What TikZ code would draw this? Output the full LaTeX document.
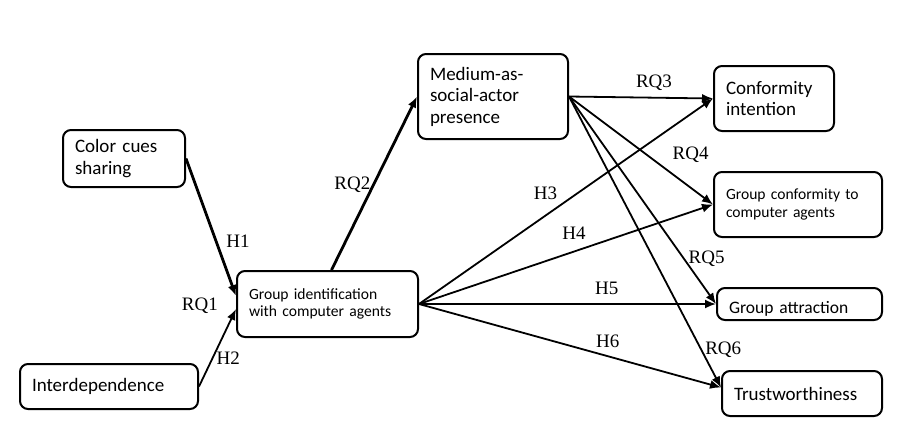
\documentclass[tikz,border=0pt]{standalone}
\usepackage{fontspec}
\setmainfont{Liberation Serif}
\newfontfamily\boxfont{Carlito}
\usetikzlibrary{positioning,arrows.meta}
\tikzset{
  box/.style={draw, line width=2pt, rounded corners=8pt, anchor=north west, align=left, inner xsep=12pt, inner ysep=2pt, font=\boxfont\fontsize{19}{21.5}\selectfont},
  smallbox/.style={box, font=\boxfont\fontsize{15.6}{17.5}\selectfont},
  lbl/.style={inner sep=1pt, font=\fontsize{19}{21}\selectfont},
  arr/.style={-{Latex[length=11pt,width=9pt]}, line width=1.8pt},
  thickarr/.style={-{Latex[length=11pt,width=9pt]}, line width=2.8pt}
}
\begin{document}
\begin{tikzpicture}[x=1pt,y=-1pt]
\useasboundingbox (0,0) rectangle (918,432);
%
\node[box, text width=98pt, minimum height=57pt] (cc) at (62,129) {Color cues\\sharing};
\node[box, text width=154pt, minimum height=45pt] (idp) at (19,363) {Interdependence};
\node[smallbox, text width=157pt, minimum height=66pt] (grp) at (236,270) {Group identification\\with computer agents};
\node[box, text width=126pt, minimum height=85pt] (med) at (417,53) {Medium-as-\\social-actor\\presence};
%
\node[box, text width=96pt, minimum height=65pt] (ci) at (713,65) {Conformity\\intention};
\node[smallbox, text width=144pt, minimum height=65pt] (gc) at (713,171) {Group conformity to\\computer agents};
\node[box, text width=141pt, minimum height=32pt, text height=21pt, text depth=2pt, font=\boxfont\fontsize{17.5}{20}\selectfont] (ga) at (716,287) {Group attraction};
\node[box, text width=136pt, minimum height=45pt] (tw) at (721,370) {Trustworthiness};
%
\draw[thickarr] (cc.east) -- node[lbl, pos=0.6, xshift=22pt] {H1} ([yshift=8pt]grp.west);
\draw[arr] (idp.east) -- node[lbl, pos=0.36, xshift=16pt] {H2} ([yshift=-5pt]grp.west);
\node[lbl, left=17pt of grp.west, yshift=-2pt] (rq1) {RQ1};
\draw[thickarr] ([xshift=4pt]grp.north) -- node[lbl, pos=0.49, xshift=-21pt] {RQ2} (med.west);
%
\draw[arr] (med.east) -- node[lbl, pos=0.59, yshift=15pt] {RQ3} (ci.west);
\draw[arr] (med.east) -- node[lbl, pos=0.65, xshift=28pt, yshift=12pt] {RQ4} (gc.west);
\draw[arr] (med.east) -- node[lbl, pos=0.78, xshift=23pt] {RQ5} (ga.west);
\draw[arr] (med.east) -- node[lbl, pos=0.87, xshift=22pt] {RQ6} ([yshift=6pt]tw.west);
%
\draw[arr] (grp.east) -- node[lbl, pos=0.43, yshift=22pt] {H3} (ci.west);
\draw[arr] (grp.east) -- node[lbl, pos=0.527, yshift=18pt] {H4} (gc.west);
\draw[arr] (grp.east) -- node[lbl, pos=0.632, yshift=16pt] {H5} (ga.west);
\draw[arr] (grp.east) -- node[lbl, pos=0.625, yshift=15pt] {H6} ([yshift=6pt]tw.west);
\end{tikzpicture}
\end{document}
